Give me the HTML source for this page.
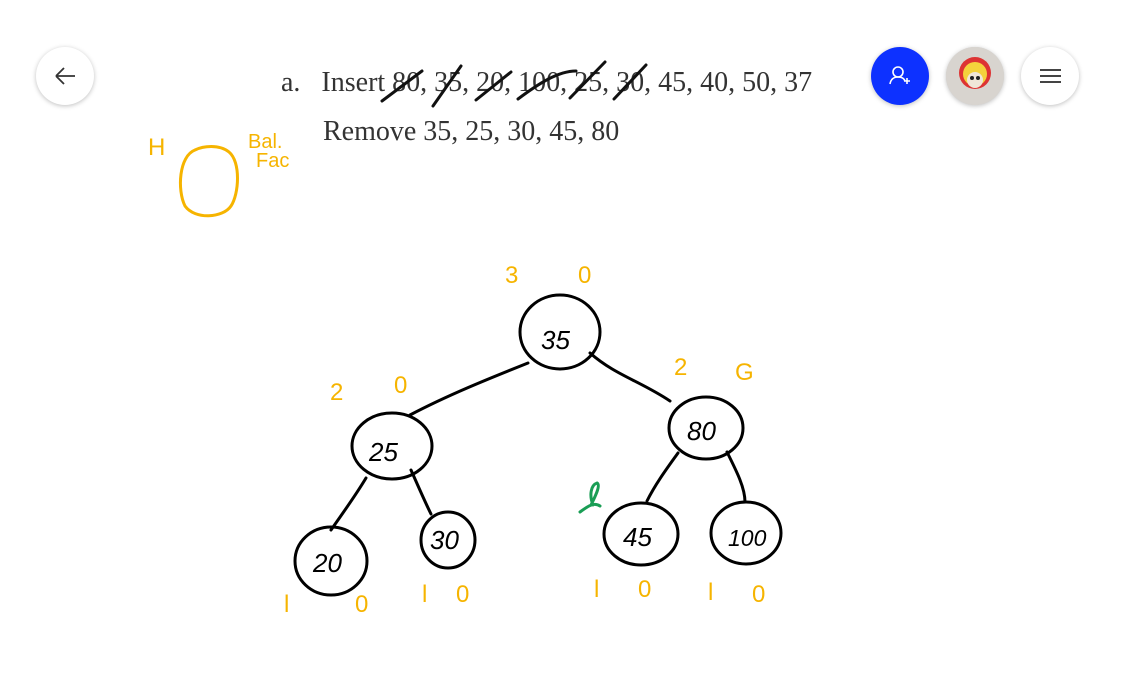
<!DOCTYPE html>
<html><head><meta charset="utf-8"><style>
html,body{margin:0;padding:0;background:#fff;width:1124px;height:698px;overflow:hidden}
.btn{position:absolute;width:58px;height:58px;border-radius:50%;box-shadow:0 1px 5px rgba(0,0,0,.25);background:#fff}
.t{position:absolute;font-family:"Liberation Serif",serif;font-size:28px;color:#333;white-space:nowrap}
</style></head><body>
<div class="btn" style="left:36px;top:47px"><svg width="58" height="58"><path d="M20 29H39M20 29l8-8M20 29l8 8" stroke="#333" stroke-width="1.8" fill="none"/></svg></div>
<div class="btn" style="left:871px;top:47px;background:#0d31ff"><svg width="58" height="58"><circle cx="27" cy="25" r="5" stroke="#fff" stroke-width="1.6" fill="none"/><path d="M19 37c1-6 5-7 8-7s6 1 7 4M33 34h6M36 31v6" stroke="#fff" stroke-width="1.6" fill="none"/></svg></div>
<div class="btn" style="left:946px;top:47px;background:#ccc"><svg width="58" height="58"><circle cx="29" cy="29" r="29" fill="#d8d4cf"/><circle cx="29" cy="26" r="16" fill="#d33" /><circle cx="29" cy="27" r="12" fill="#f4d23c"/><circle cx="29" cy="33" r="8" fill="#f0e6d8"/><circle cx="26" cy="31" r="2" fill="#222"/><circle cx="32" cy="31" r="2" fill="#222"/></svg></div>
<div class="btn" style="left:1021px;top:47px"><svg width="58" height="58"><path d="M19 23h21M19 29h21M19 35h21" stroke="#444" stroke-width="2"/></svg></div>
<div class="t" style="left:281px;top:67px">a.&nbsp;&nbsp; Insert 80, 35, 20, 100, 25, 30, 45, 40, 50, 37</div>
<div class="t" style="left:323px;top:116px">Remove 35, 25, 30, 45, 80</div>
<svg width="1124" height="698" style="position:absolute;left:0;top:0" fill="none" stroke-linecap="round">
<g stroke="#111" stroke-width="3">
<path d="M382 101l40-30M433 106l28-40M476 100l35-28M518 99c20-15 40-28 58-28M570 98l35-36M614 99l32-34"/>
</g>
<g stroke="#000" stroke-width="3">
<ellipse cx="560" cy="332" rx="40" ry="37"/>
<ellipse cx="392" cy="446" rx="40" ry="33"/>
<ellipse cx="706" cy="428" rx="37" ry="31"/>
<ellipse cx="331" cy="561" rx="36" ry="34"/>
<ellipse cx="448" cy="540" rx="27" ry="28"/>
<ellipse cx="641" cy="534" rx="37" ry="31"/>
<ellipse cx="746" cy="533" rx="35" ry="31"/>
<path d="M528 363c-40 16-80 32-118 52M590 353c25 22 50 28 80 48M366 478c-12 20-24 36-35 52M411 470c8 18 14 32 20 44M678 453c-10 14-22 30-31 48M727 452c10 20 18 36 18 50"/>
</g>
<g font-family="Liberation Sans,sans-serif" font-style="italic" font-size="26" fill="#000">
<text x="541" y="349">35</text><text x="369" y="461">25</text><text x="687" y="440">80</text>
<text x="313" y="572">20</text><text x="430" y="549">30</text><text x="623" y="546">45</text><text x="728" y="546" font-size="23">100</text>
</g>
<g font-family="Liberation Sans,sans-serif" font-size="24" fill="#f6b400">
<text x="505" y="283">3</text><text x="578" y="283">0</text>
<text x="330" y="400">2</text><text x="394" y="393">0</text>
<text x="674" y="375">2</text><text x="735" y="380">G</text>
<text x="284" y="612">l</text><text x="355" y="612">0</text><text x="422" y="602">l</text><text x="456" y="602">0</text>
<text x="594" y="597">l</text><text x="638" y="597">0</text><text x="708" y="600">l</text><text x="752" y="602">0</text>
<text x="148" y="155">H</text><text x="248" y="148" font-size="20">Bal.</text><text x="256" y="167" font-size="20">Fac</text>
</g>
<path d="M195 150c-16 6-18 40-10 56 10 14 38 12 46 0 8-12 10-44-2-54-10-8-26-6-34-2" stroke="#f6b400" stroke-width="3"/>
<path d="M580 512c8-6 14-10 20-6M593 505c-4-10-2-20 4-22 4 2-2 14-6 22" stroke="#1a9e55" stroke-width="3"/>
</svg>
</body></html>
